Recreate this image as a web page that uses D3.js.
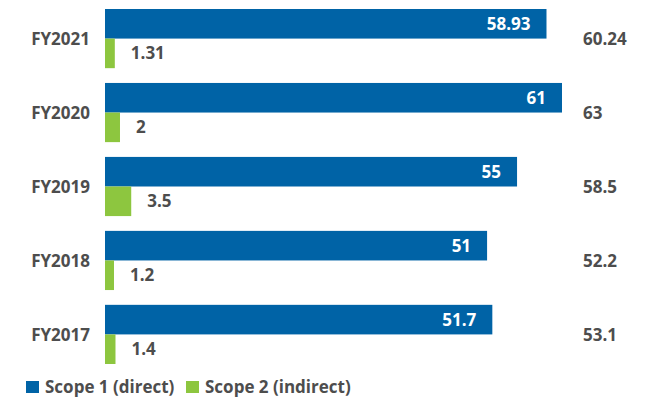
<!DOCTYPE html>
<html>
<head>
<meta charset="utf-8">
<script src="https://cdn.jsdelivr.net/npm/d3@7"></script>
<style>
  html, body { margin: 0; padding: 0; background: #ffffff; }
  svg { display: block; }
  text { font-family: "Open Sans", "DejaVu Sans", sans-serif; font-weight: 700; }
</style>
</head>
<body>
<svg id="chart" width="665" height="399"></svg>
<script>
const categories = ["FY2021", "FY2020", "FY2019", "FY2018", "FY2017"];
const scope1 = [58.93, 61, 55, 51, 51.7];
const scope2 = [1.31, 2, 3.5, 1.2, 1.4];
const totals = ["60.24", "63", "58.5", "52.2", "53.1"];
const seriesNames = ["Scope 1 (direct)", "Scope 2 (indirect)"];
const colors = ["#0063a6", "#8dc63f"];

const svg = d3.select("#chart");
const left = 105;

const x = d3.scaleLinear().domain([0, 61]).range([left, 562]);
const y = d3.scaleBand().domain(categories).range([9, 364]).paddingInner(0.2).paddingOuter(0);
const sub = d3.scaleBand().domain([0, 1]).range([0, y.bandwidth()]);

const data = categories.map((c, i) => ({ c, s1: scope1[i], s2: scope2[i], t: totals[i] }));

const g = svg.append("g").selectAll("g").data(data).join("g")
  .attr("transform", d => `translate(0,${y(d.c)})`);

g.append("rect")
  .attr("x", x(0)).attr("y", sub(0))
  .attr("width", d => x(d.s1) - x(0)).attr("height", sub.bandwidth())
  .attr("fill", colors[0]);

g.append("rect")
  .attr("x", x(0)).attr("y", sub(1))
  .attr("width", d => x(d.s2) - x(0)).attr("height", sub.bandwidth())
  .attr("fill", colors[1]);

g.append("text")
  .attr("x", d => x(d.s1) - 16).attr("y", sub(0) + sub.bandwidth() / 2)
  .attr("dy", "0.36em").attr("text-anchor", "end")
  .attr("fill", "#ffffff").attr("font-size", 17)
  .text(d => d.s1);

g.append("text")
  .attr("x", d => x(d.s2) + 16).attr("y", sub(1) + sub.bandwidth() / 2)
  .attr("dy", "0.36em").attr("text-anchor", "start")
  .attr("fill", "#4d4d4d").attr("font-size", 17)
  .text(d => d.s2);

g.append("text")
  .attr("x", 583).attr("y", sub(1))
  .attr("dy", "0.36em").attr("text-anchor", "start")
  .attr("fill", "#4d4d4d").attr("font-size", 17)
  .text(d => d.t);

g.append("text")
  .attr("x", 90).attr("y", sub(1))
  .attr("dy", "0.36em").attr("text-anchor", "end")
  .attr("fill", "#4d4d4d").attr("font-size", 17)
  .text(d => d.c);

const legend = svg.append("g").attr("transform", "translate(0,381)");
const legX = [26, 186];
seriesNames.forEach((name, i) => {
  legend.append("rect").attr("x", legX[i]).attr("y", 0).attr("width", 13).attr("height", 12).attr("fill", colors[i]);
  legend.append("text").attr("x", legX[i] + 19).attr("y", 12)
    .attr("fill", "#4d4d4d").attr("font-size", 17).text(name);
});
</script>
</body>
</html>
